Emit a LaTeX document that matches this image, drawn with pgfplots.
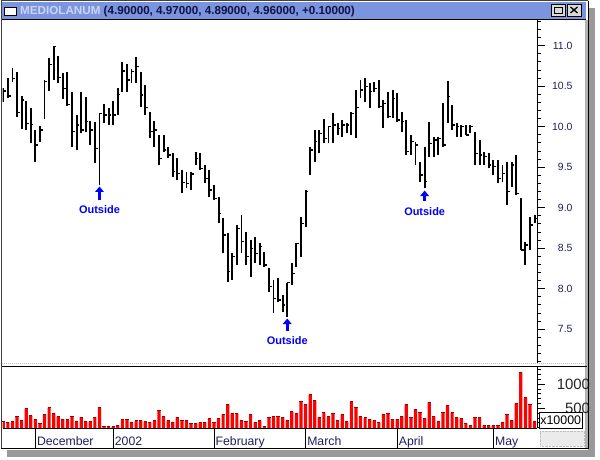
\documentclass[border=0pt]{standalone}
\usepackage{pgfplots}
\pgfplotsset{compat=1.18}
\usepackage{pgfplotstable}
\usepackage{fontspec}
\setmainfont{Liberation Sans}
\usetikzlibrary{arrows.meta}

\definecolor{titlebar}{RGB}{122,148,222}
\definecolor{titlelite}{RGB}{205,212,250}
\definecolor{titledark}{RGB}{18,18,70}
\definecolor{ticknavy}{RGB}{30,30,95}
\definecolor{volred}{RGB}{255,0,0}
\definecolor{outblue}{RGB}{0,0,255}

% close tick to the right of each bar
\pgfdeclareplotmark{closetick}{%
  \pgfpathmoveto{\pgfqpoint{0pt}{0pt}}%
  \pgfpathlineto{\pgfqpoint{2.7pt}{0pt}}%
  \pgfusepathqstroke}

% bar index, high, low, close, volume (x10000)
\pgfplotstableread{
i h l c v
1 10.474 10.309 10.441 222
2 10.597 10.350 10.379 201
3 10.720 10.556 10.597 222
4 10.671 10.124 10.177 326
5 10.379 9.967 10.330 242
6 10.321 9.959 10.041 492
7 10.227 9.795 10.029 347
8 9.959 9.568 9.774 270
9 10.009 9.815 9.959 187
10 10.576 10.091 10.556 374
11 10.852 10.441 10.770 513
12 11.000 10.576 10.988 395
13 10.877 10.535 10.605 326
14 10.659 10.342 10.474 270
15 10.679 10.260 10.276 270
16 10.424 9.753 9.939 326
17 10.144 9.712 10.021 222
18 10.424 9.918 9.959 312
19 10.362 9.939 10.062 222
20 10.070 9.774 9.959 222
21 10.054 9.548 9.733 312
22 10.173 9.280 10.165 513
23 10.276 10.041 10.144 117
24 10.227 10.021 10.144 117
25 10.317 10.021 10.144 117
26 10.474 10.144 10.399 138
27 10.795 10.432 10.688 270
28 10.770 10.432 10.576 270
29 10.708 10.535 10.679 208
30 10.860 10.535 10.741 242
31 10.679 10.247 10.391 242
32 10.515 10.144 10.235 222
33 10.177 9.856 9.939 208
34 10.070 9.753 9.959 242
35 9.897 9.527 9.609 451
36 9.897 9.692 9.712 326
37 9.745 9.609 9.651 242
38 9.671 9.383 9.445 208
39 9.609 9.342 9.424 305
40 9.466 9.178 9.309 242
41 9.445 9.239 9.301 242
42 9.445 9.219 9.416 187
43 9.692 9.528 9.610 187
44 9.672 9.466 9.486 208
45 9.528 9.301 9.363 208
46 9.466 9.137 9.219 284
47 9.281 9.095 9.116 208
48 9.137 8.807 8.931 284
49 8.869 8.437 8.663 374
50 8.684 8.087 8.211 583
51 8.437 8.108 8.396 395
52 8.787 8.293 8.746 395
53 8.910 8.437 8.581 242
54 8.705 8.293 8.396 222
55 8.602 8.149 8.499 374
56 8.643 8.314 8.437 208
57 8.560 8.293 8.519 242
58 8.458 8.272 8.293 120
59 8.252 7.964 8.025 312
60 8.108 7.696 7.881 326
61 8.128 7.840 7.861 326
62 7.923 7.717 7.799 312
63 8.075 7.655 8.075 242
64 8.314 8.046 8.190 430
65 8.569 8.272 8.560 395
66 8.890 8.396 8.807 638
67 9.219 8.766 9.198 583
68 9.754 9.404 9.713 791
69 9.960 9.569 9.816 659
70 9.960 9.672 9.918 312
71 10.091 9.795 9.857 416
72 10.013 9.795 10.001 326
73 10.165 9.795 10.021 395
74 10.050 9.898 9.980 242
75 10.083 9.877 10.021 374
76 10.050 9.918 10.021 222
77 10.186 9.898 10.165 638
78 10.453 9.865 10.235 513
79 10.577 10.350 10.453 326
80 10.597 10.309 10.494 305
81 10.536 10.227 10.433 270
82 10.556 10.433 10.474 242
83 10.577 10.235 10.248 208
84 10.330 9.980 10.289 374
85 10.433 10.104 10.124 395
86 10.453 10.104 10.350 277
87 10.412 10.062 10.083 270
88 10.186 9.939 10.062 326
89 10.083 9.651 9.692 583
90 9.898 9.651 9.816 312
91 9.816 9.527 9.774 478
92 9.569 9.322 9.404 416
93 9.754 9.239 9.322 284
94 10.062 9.630 9.795 624
95 9.877 9.630 9.836 326
96 9.877 9.651 9.857 222
97 10.289 9.754 9.774 416
98 10.564 10.042 10.371 555
99 10.268 9.960 10.021 416
100 10.042 9.877 10.000 305
101 10.021 9.877 10.001 291
102 10.021 9.898 9.898 187
103 10.021 9.918 10.001 138
104 9.939 9.527 9.671 305
105 9.836 9.527 9.651 305
106 9.692 9.527 9.630 138
107 9.671 9.486 9.527 138
108 9.589 9.404 9.507 138
109 9.589 9.301 9.363 152
110 9.527 9.322 9.425 208
111 9.569 9.034 9.198 374
112 9.569 9.260 9.527 242
113 9.651 9.157 9.178 603
114 9.116 8.478 8.478 1242
115 8.581 8.293 8.540 721
116 8.890 8.478 8.787 583
117 8.910 8.807 8.869 222
}\ohlc

\begin{document}
\begin{tikzpicture}
% window chrome
\begin{scope}[x=1bp,y=1bp]
\path[use as bounding box] (0,0) rectangle (600,460);
\fill[black!40] (7,3) rectangle (595,452);
\fill[white] (1,10) rectangle (588,459);
\fill[titlebar] (2,441) rectangle (586,458);
\draw[black, line width=1bp] (2,440.5) -- (586,440.5);
\fill[white, draw=black, line width=0.8bp] (4.5,444.5) rectangle (16.5,452.5);
\node[anchor=base west, inner sep=0pt, font=\bfseries\fontsize{11.7}{13}\selectfont]
  at (20,445.5) {\textcolor{titlelite}{MEDIOLANUM} \textcolor{titledark}{(4.90000, 4.97000, 4.89000, 4.96000, +0.10000)}};
\fill[black!15, draw=black, line width=0.8bp] (551,443.5) rectangle (565,456);
\draw[black, line width=0.8bp] (554,446.5) rectangle (562,453);
\draw[black, line width=1.4bp] (554,452.3) -- (562,452.3);
\fill[black!15, draw=black, line width=0.8bp] (567,443.5) rectangle (581,456);
\draw[black, line width=1.3bp] (570.5,447) -- (577.5,453) (570.5,453) -- (577.5,447);
\fill[black!30] (585,11) rectangle (587.5,440);
\draw[black!25, densely dotted, line width=1bp] (2,96) -- (585,96);
\end{scope}

% price panel
\begin{axis}[
  at={(2.5bp,97bp)}, anchor=south west,
  scale only axis, width=534.8bp, height=343bp,
  xmin=0.825, xmax=117.6, ymin=7.0827, ymax=11.3173,
  axis x line=none, axis y line=right,
  axis line style={-, line width=0.8bp},
  tick align=outside, major tick length=7.5bp, minor tick length=3.8bp,
  tick style={black, line width=0.8bp},
  ytick={7.5,8,...,11},
  minor ytick={7.1,7.2,...,11.3},
  yticklabel style={font=\fontsize{10.5}{12}\selectfont, text=ticknavy,
    anchor=west, inner sep=0pt, text width=27.5bp, align=right,
    /pgf/number format/fixed, /pgf/number format/fixed zerofill,
    /pgf/number format/precision=1},
  /pgf/number format/assume math mode=true,
]
\addplot[draw=none, mark=none,
  error bars/.cd, y dir=plus, y explicit, error mark=none,
  error bar style={draw=black, line width=1.9bp}]
  table[x=i, y=l, y error plus expr=\thisrow{h}-\thisrow{l}] {\ohlc};
\addplot[only marks, mark=closetick, mark options={black, line width=1.4bp}]
  table[x=i, y=c] {\ohlc};
% outside-bar annotations
\draw[outblue, line width=2.6bp, -{Triangle[width=8.5bp,length=5.5bp]}]
  (axis cs:22,9.095) -- (axis cs:22,9.262);
\node[text=outblue, font=\bfseries\fontsize{11}{13}\selectfont] at (axis cs:22,8.972) {Outside};
\draw[outblue, line width=2.6bp, -{Triangle[width=8.5bp,length=5.5bp]}]
  (axis cs:63,7.478) -- (axis cs:63,7.632);
\node[text=outblue, font=\bfseries\fontsize{11}{13}\selectfont] at (axis cs:63,7.354) {Outside};
\draw[outblue, line width=2.6bp, -{Triangle[width=8.5bp,length=5.5bp]}]
  (axis cs:93,9.083) -- (axis cs:93,9.212);
\node[text=outblue, font=\bfseries\fontsize{11}{13}\selectfont] at (axis cs:93,8.948) {Outside};
\end{axis}

% volume panel
\begin{axis}[
  at={(2.5bp,32bp)}, anchor=south west,
  scale only axis, width=534.8bp, height=61bp,
  xmin=0.825, xmax=117.6, ymin=90, ymax=1360,
  axis x line=bottom, axis y line=right,
  axis line style={-, line width=0.8bp},
  tick align=outside, major tick length=7.5bp, minor tick length=4bp,
  tick style={black, line width=0.8bp},
  xtick=\empty,
  minor xtick={3.4,13.2,18.2,23.3,33.25,38.3,43.4,53.2,58.3,63.3,68.2,73.3,78.3,83.1,91.3,96.2,101.2,110.2,115.3},
  extra x ticks={8,25,47,67,87,108},
  extra x tick labels={December,2002,February,March,April,May},
  extra x tick style={major tick length=20bp,
    xticklabel style={anchor=base west, xshift=1.5bp, yshift=2bp}},
  xticklabel style={font=\fontsize{12.3}{14}\selectfont, text=ticknavy, inner sep=0pt},
  ytick={500,1000},
  minor ytick={100,200,300,400,600,700,800,900,1100,1200,1300},
  yticklabel style={font=\fontsize{15}{16}\selectfont, text=black!85,
    anchor=west, inner sep=0pt, text width=45bp, align=right,
    /pgf/number format/1000 sep={}},
  /pgf/number format/assume math mode=true,
]
\addplot[ybar, bar width=3.2bp, fill=volred, draw=none] table[x=i, y=v] {\ohlc};
\addplot[only marks, mark=-, mark size=1.6bp, mark options={draw=red!60!black, line width=1bp}]
  table[x=i, y=v] {\ohlc};
\end{axis}

% frame lines and boxes on top
\begin{scope}[x=1bp,y=1bp]
\draw[black, line width=1bp] (2,93) -- (587,93);
\fill[white, draw=black, line width=0.8bp] (539.5,32) rectangle (582,47.5);
\node[font=\fontsize{12.5}{14}\selectfont] at (560.7,39.8) {x10000};
\fill[black!8, draw=black!25, densely dotted] (540,14) rectangle (584,29);
\draw[black!75, line width=1bp] (1.5,11) -- (1.5,459) -- (588,459);
\draw[black, line width=1.2bp] (1,11.5) -- (588,11.5);
\draw[black, line width=1bp] (588,11) -- (588,459);
\end{scope}
\end{tikzpicture}
\end{document}
